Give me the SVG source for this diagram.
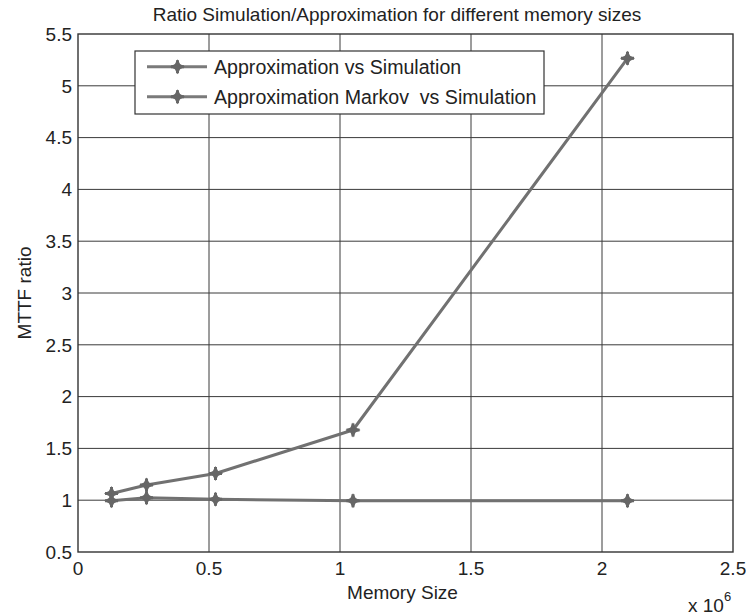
<svg xmlns="http://www.w3.org/2000/svg" width="746" height="616" viewBox="0 0 746 616">
  <style>
    text { font-family: "Liberation Sans", Arial, sans-serif; fill: #222; }
    .tick { font-size: 19px; }
    .lbl { font-size: 19px; }
    .legtxt { font-size: 19.6px; }
    .grid { stroke: #3a3a3a; stroke-width: 1; fill: none; }
    .box { stroke: #333; stroke-width: 1.4; fill: none; }
    .series { stroke: #717171; stroke-width: 3; fill: none; stroke-linejoin: round; }
    .leg { stroke: #7a7a7a; stroke-width: 3; }
  </style>
  <defs>
    <g id="mk">
      <path d="M0,-7.5 L2.6,-2.6 L7.5,0 L2.6,2.6 L0,7.5 L-2.6,2.6 L-7.5,0 L-2.6,-2.6 Z" fill="#666"/>
      <path d="M0,-6.5 V6.5 M-6.5,0 H6.5" stroke="#666" stroke-width="3"/>
    </g>
  </defs>
  <rect width="746" height="616" fill="#fff"/>

  <!-- grid lines -->
  <g id="grid">
    <path class="grid" d="M209,34 V552 M340,34 V552 M471,34 V552 M602,34 V552"/>
    <path class="grid" d="M78,500.2 H733 M78,448.4 H733 M78,396.6 H733 M78,344.8 H733 M78,293 H733 M78,241.2 H733 M78,189.4 H733 M78,137.6 H733 M78,85.8 H733"/>
    <rect class="box" x="78" y="34" width="655" height="518"/>
  </g>

  <!-- tick labels -->
  <g id="yticks" class="tick" text-anchor="end">
    <text x="72" y="558.5">0.5</text>
    <text x="72" y="507">1</text>
    <text x="72" y="455">1.5</text>
    <text x="72" y="403">2</text>
    <text x="72" y="351.5">2.5</text>
    <text x="72" y="299.5">3</text>
    <text x="72" y="248">3.5</text>
    <text x="72" y="196">4</text>
    <text x="72" y="144">4.5</text>
    <text x="72" y="92.5">5</text>
    <text x="72" y="40.5">5.5</text>
  </g>
  <g id="xticks" class="tick" text-anchor="middle">
    <text x="78" y="574.5">0</text>
    <text x="209" y="574.5">0.5</text>
    <text x="340" y="574.5">1</text>
    <text x="471" y="574.5">1.5</text>
    <text x="602" y="574.5">2</text>
    <text x="733" y="574.5">2.5</text>
  </g>

  <!-- titles -->
  <text class="lbl" x="397" y="21" text-anchor="middle">Ratio Simulation/Approximation for different memory sizes</text>
  <text class="lbl" x="402.5" y="599" text-anchor="middle">Memory Size</text>
  <text class="lbl" transform="translate(31,293) rotate(-90)" text-anchor="middle">MTTF ratio</text>
  <text class="lbl" x="688" y="612">x 10<tspan dy="-11" font-size="13">6</tspan></text>

  <!-- data series -->
  <g id="connectors">
    <polyline class="series" points="111.5,493.5 146.5,485 215.5,473.5 353,430 627.5,58.3"/>
    <polyline class="series" points="111.5,500.7 146.5,497.7 215.5,499.3 353,500.7 627.5,500.7"/>
  </g>
  <g id="series1-markers">
    <use href="#mk" x="111.5" y="493.5"/>
    <use href="#mk" x="146.5" y="485"/>
    <use href="#mk" x="215.5" y="473.5"/>
    <use href="#mk" x="353" y="430"/>
    <use href="#mk" x="627.5" y="58.3"/>
  </g>
  <g id="series2-markers">
    <use href="#mk" x="111.5" y="500.7"/>
    <use href="#mk" x="146.5" y="497.7"/>
    <use href="#mk" x="215.5" y="499.3"/>
    <use href="#mk" x="353" y="500.7"/>
    <use href="#mk" x="627.5" y="500.7"/>
  </g>

  <!-- legend -->
  <g id="legend">
    <rect x="135" y="51" width="409" height="63" fill="#fff" stroke="#333" stroke-width="1.2"/>
    <line class="leg" x1="147" y1="66.7" x2="207" y2="66.7"/>
    <use href="#mk" x="177.5" y="66.7"/>
    <text class="legtxt" x="214" y="73.7">Approximation vs Simulation</text>
    <line class="leg" x1="147" y1="96.7" x2="207" y2="96.7"/>
    <use href="#mk" x="177.5" y="96.7"/>
    <text class="legtxt" x="214" y="103.7" xml:space="preserve">Approximation Markov  vs Simulation</text>
  </g>
</svg>
